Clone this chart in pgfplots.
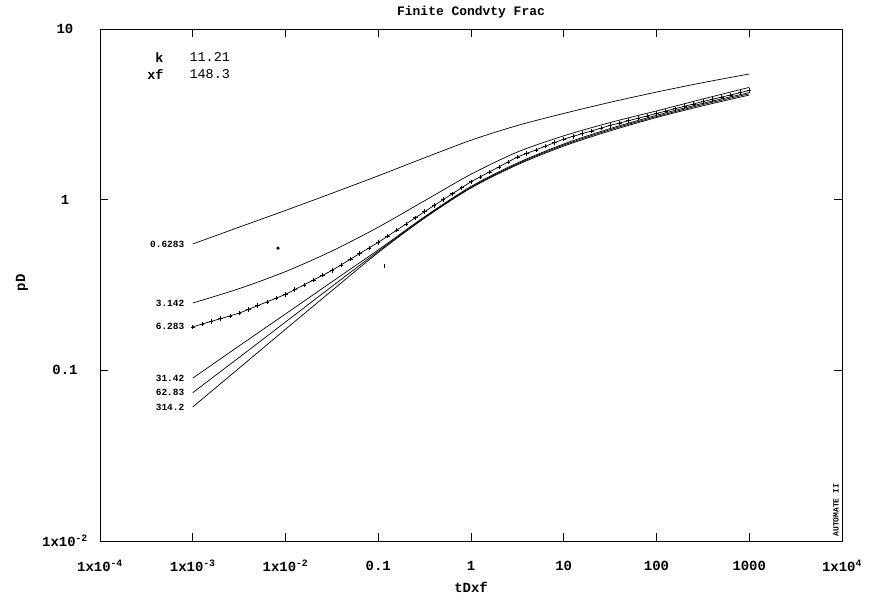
\documentclass[border=0pt]{standalone}
\usepackage{fontspec}
\setmainfont{Liberation Mono}
\usepackage{pgfplots}
\pgfplotsset{compat=1.18}
\begin{document}
\begin{tikzpicture}
\begin{axis}[
  at={(0,0)}, anchor=south west,
  scale only axis, width=742bp, height=512bp,
  xmode=log, ymode=log,
  xmin=1e-4, xmax=1e4, ymin=1e-2, ymax=10,
  xtick={1e-4,1e-3,1e-2,1e-1,1,10,100,1000,1e4},
  xticklabels={1x10\textsuperscript{-4},1x10\textsuperscript{-3},1x10\textsuperscript{-2},0.1,1,10,100,1000,1x10\textsuperscript{4}},
  ytick={0.01,0.1,1,10},
  yticklabels={1x10\textsuperscript{-2},0.1,1,10},
  xminorticks=false, yminorticks=false,
  major tick length=8bp,
  tick style={black, line width=0.6bp},
  axis line style={black, line width=0.8bp},
  ticklabel style={font=\fontsize{14}{16}\selectfont\bfseries},
  xticklabel style={anchor=center, yshift=-25bp},
  yticklabel style={anchor=center, xshift=-35bp},
  clip=false,
  every axis plot/.append style={black, line width=0.7bp},
]
% 0.6283
\addplot[smooth] coordinates {(1e-3,0.55) (3.162e-3,0.69) (1e-2,0.865) (3.162e-2,1.09) (0.1,1.38) (0.3162,1.76) (1,2.23) (3.162,2.72) (10,3.20) (31.62,3.72) (100,4.27) (316.2,4.85) (1000,5.45)};
% 3.142
\addplot[smooth] coordinates {(1e-3,0.248) (3.162e-3,0.301) (1e-2,0.379) (3.162e-2,0.500) (0.1,0.690) (0.3162,0.986) (1,1.409) (3.162,1.901) (10,2.366) (31.62,2.831) (100,3.311) (316.2,3.890) (1000,4.550)};
% 31.42
\addplot[smooth] coordinates {(1e-3,0.090) (3.162e-3,0.139) (1e-2,0.214) (3.162e-2,0.330) (0.1,0.508) (0.3162,0.795) (1,1.195) (3.162,1.64) (10,2.12) (31.62,2.61) (100,3.12) (316.2,3.67) (1000,4.24)};
% 62.83
\addplot[smooth] coordinates {(1e-3,0.074) (3.162e-3,0.119) (1e-2,0.192) (3.162e-2,0.310) (0.1,0.498) (0.3162,0.787) (1,1.18) (3.162,1.62) (10,2.09) (31.62,2.57) (100,3.07) (316.2,3.61) (1000,4.17)};
% 314.2
\addplot[smooth] coordinates {(1e-3,0.061) (3.162e-3,0.103) (1e-2,0.174) (3.162e-2,0.293) (0.1,0.490) (0.3162,0.780) (1,1.17) (3.162,1.60) (10,2.06) (31.62,2.53) (100,3.03) (316.2,3.55) (1000,4.10)};
% 6.283 with data crosses
\addplot[mark=+, mark size=2.2bp, mark options={line width=0.6bp}] coordinates {(0.001,0.1799) (0.001259,0.1866) (0.001585,0.1936) (0.001995,0.2009) (0.002512,0.2084) (0.003162,0.2163) (0.003981,0.2275) (0.005012,0.2393) (0.00631,0.2518) (0.007943,0.2649) (0.01,0.2786) (0.01259,0.2972) (0.01585,0.3170) (0.01995,0.3381) (0.02512,0.3606) (0.03162,0.3846) (0.03981,0.4150) (0.05012,0.4477) (0.0631,0.4831) (0.07943,0.5212) (0.1,0.5623) (0.1259,0.6109) (0.1585,0.6637) (0.1995,0.7211) (0.2512,0.7834) (0.3162,0.8511) (0.3981,0.9226) (0.5012,1.0000) (0.631,1.0839) (0.7943,1.1749) (1,1.2735) (1.259,1.3614) (1.585,1.4555) (1.995,1.5560) (2.512,1.6634) (3.162,1.7783) (3.981,1.8664) (5.012,1.9588) (6.31,2.0558) (7.943,2.1577) (10,2.2646) (12.59,2.3496) (15.85,2.4378) (19.95,2.5293) (25.12,2.6242) (31.62,2.7227) (39.81,2.8119) (50.12,2.9040) (63.1,2.9992) (79.43,3.0974) (100,3.1989) (125.9,3.3037) (158.5,3.4119) (199.5,3.5237) (251.2,3.6392) (316.2,3.7584) (398.1,3.8726) (501.2,3.9902) (631,4.1115) (794.3,4.2364) (1000,4.3652)};
% stray marks
\addplot[only marks, mark=*, mark size=1.3bp] coordinates {(0.0083,0.52)};
\addplot[only marks, mark=|, mark size=2bp, mark options={line width=0.5bp}] coordinates {(0.115,0.41)};

\begin{scope}[every node/.style={font=\fontsize{9.5}{11}\selectfont\bfseries, anchor=east, xshift=-5bp}]
\node at (axis cs:1e-3,0.55) {0.6283};
\node at (axis cs:1e-3,0.248) {3.142};
\node at (axis cs:1e-3,0.18) {6.283};
\node at (axis cs:1e-3,0.090) {31.42};
\node at (axis cs:1e-3,0.074) {62.83};
\node at (axis cs:1e-3,0.061) {314.2};
\end{scope}

\node[font=\fontsize{13.5}{15}\selectfont\bfseries, anchor=east] at (rel axis cs:0.0903,0.945) {k};
\node[font=\fontsize{13.5}{15}\selectfont, anchor=west] at (rel axis cs:0.116,0.945) {11.21};
\node[font=\fontsize{13.5}{15}\selectfont\bfseries, anchor=east] at (rel axis cs:0.0903,0.912) {xf};
\node[font=\fontsize{13.5}{15}\selectfont, anchor=west] at (rel axis cs:0.116,0.912) {148.3};
\end{axis}
\node[font=\fontsize{13}{15}\selectfont\bfseries] at (371bp,529bp) {Finite Condvty Frac};
\node[font=\fontsize{14}{16}\selectfont\bfseries] at (371bp,-46bp) {tDxf};
\node[font=\fontsize{14}{16}\selectfont\bfseries, rotate=90] at (-78bp,258bp) {pD};
\node[font=\fontsize{8}{9}\selectfont\bfseries, rotate=90, anchor=west] at (736bp,1bp) {AUTOMATE II};
\pgfresetboundingbox
\useasboundingbox (-100bp,-58bp) rectangle (774bp,541bp);
\end{tikzpicture}
\end{document}
